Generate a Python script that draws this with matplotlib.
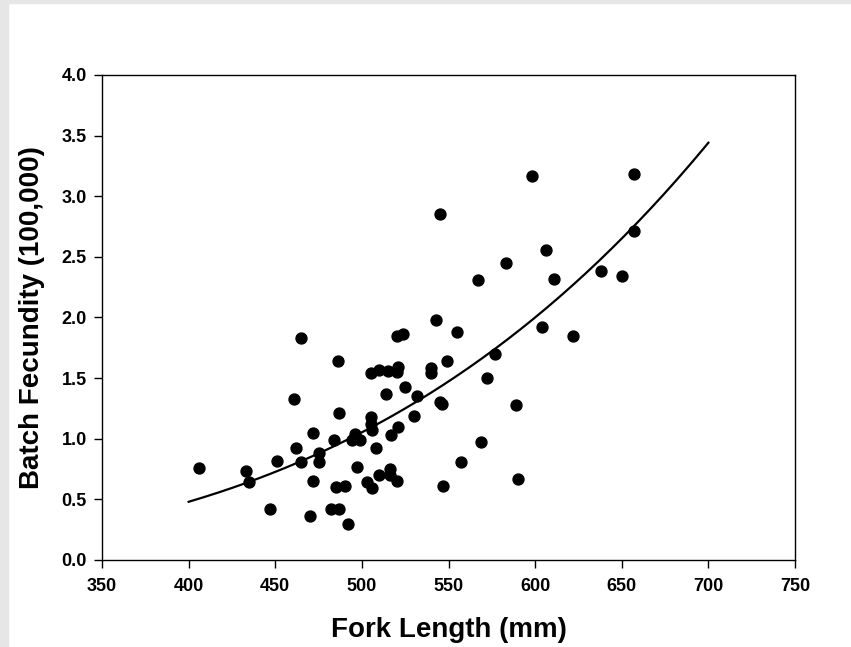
import matplotlib

matplotlib.use("Agg")
import matplotlib.pyplot as plt
from matplotlib.patches import Rectangle
import numpy as np

plt.rcParams.update(
    {
        "font.family": ["Liberation Sans", "DejaVu Sans"],
        "font.weight": "bold",
        "axes.linewidth": 1.0,
    }
)

# fork length (mm) and batch fecundity (x 100,000)
fork_length = [
    406, 433, 435, 447, 451, 461, 462, 465, 465, 472, 472, 470, 475, 475,
    482, 484, 486, 487, 485, 487, 490, 492, 494, 496, 497, 499, 503, 505,
    505, 505, 506, 506, 508, 510, 510, 514, 515, 516, 516, 517, 520, 520,
    521, 520, 521, 524, 525, 530, 532, 540, 540, 545, 543, 545, 546, 547,
    549, 555, 557, 567, 569, 572, 577, 583, 589, 590, 598, 604, 606, 611,
    622, 638, 650, 657, 657,
]
batch_fecundity = [
    0.76, 0.73, 0.64, 0.42, 0.82, 1.33, 0.92, 1.83, 0.81, 1.05, 0.65, 0.36,
    0.88, 0.81, 0.42, 0.99, 1.64, 1.21, 0.60, 0.42, 0.61, 0.30, 0.99, 1.04,
    0.77, 0.99, 0.64, 1.54, 1.18, 1.12, 1.07, 0.59, 0.92, 1.57, 0.70, 1.37,
    1.56, 0.75, 0.70, 1.03, 0.65, 1.85, 1.59, 1.55, 1.10, 1.86, 1.43, 1.19,
    1.35, 1.58, 1.54, 2.85, 1.98, 1.30, 1.29, 0.61, 1.64, 1.88, 0.81, 2.31,
    0.97, 1.50, 1.70, 2.45, 1.28, 0.67, 3.17, 1.92, 2.56, 2.32, 1.85, 2.38,
    2.34, 3.18, 2.71,
]

# fitted power curve F = a * (FL / 400) ** b, drawn over 400-700 mm
fit_a = 0.48
fit_b = 3.52
fit_range = (400, 700)

x_ticks = [350, 400, 450, 500, 550, 600, 650, 700, 750]
y_ticks = [0.0, 0.5, 1.0, 1.5, 2.0, 2.5, 3.0, 3.5, 4.0]

fig = plt.figure(figsize=(8.51, 6.47), dpi=100)
# light grey frame of the original screenshot
fig.patches.append(Rectangle((0, 0), 8 / 851, 1, transform=fig.transFigure, color="#e6e6e6", zorder=0))
fig.patches.append(Rectangle((0, 1 - 3 / 647), 1, 3 / 647, transform=fig.transFigure, color="#e6e6e6", zorder=0))

ax = fig.add_axes([0.1199, 0.1345, 0.8143, 0.7496])
ax.scatter(fork_length, batch_fecundity, s=62, color="black", zorder=3)

fx = np.linspace(*fit_range, 200)
ax.plot(fx, fit_a * (fx / 400) ** fit_b, color="black", linewidth=1.6, zorder=2)

ax.set_xlim(350, 750)
ax.set_ylim(0, 4)
ax.set_xticks(x_ticks)
ax.set_yticks(y_ticks)
ax.set_yticklabels([f"{v:.1f}" for v in y_ticks])
ax.tick_params(direction="out", length=6, width=1, top=False, right=False)
ax.tick_params(axis="x", pad=7)
ax.tick_params(axis="y", pad=5)
for lab in ax.get_xticklabels() + ax.get_yticklabels():
    lab.set_fontweight("bold")
    lab.set_fontsize(13)

ax.set_xlabel("Fork Length (mm)", fontsize=20, fontweight="bold", labelpad=16)
ax.set_ylabel("Batch Fecundity (100,000)", fontsize=20, fontweight="bold", labelpad=12)

fig.savefig("out.png", dpi=100)
